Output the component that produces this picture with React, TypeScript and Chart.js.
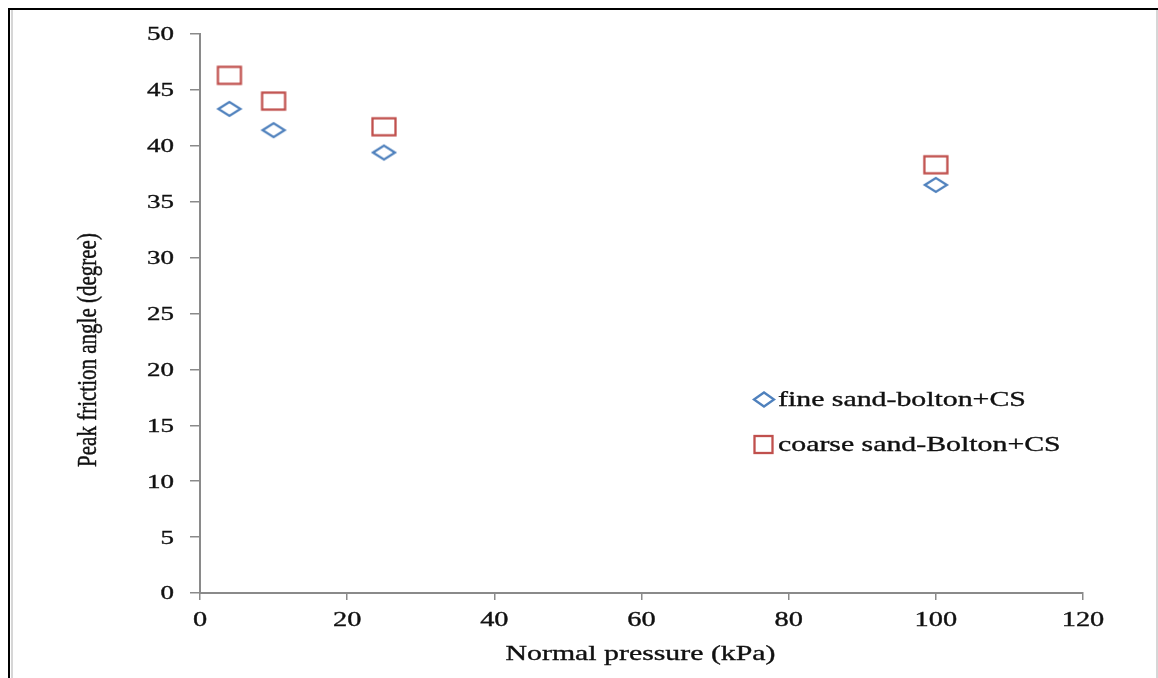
import { useEffect, useRef } from "react";
import { Chart, registerables } from "chart.js";

Chart.register(...registerables);

// Measured data: normal pressure (kPa) vs peak friction angle (degree)
const pressureKPa = [4, 10, 25, 100];
const fineSandAngle = [43.3, 41.4, 39.4, 36.5];
const coarseSandAngle = [46.3, 44.0, 41.7, 38.3];

const seriesNames = ["fine sand-bolton+CS", "coarse sand-Bolton+CS"];
const xTitle = "Normal pressure (kPa)";
const yTitle = "Peak friction angle (degree)";

const xRange = [0, 120];
const xStep = 20;
const yRange = [0, 50];
const yStep = 5;

const BLUE = "#4F81BD";
const RED = "#C0504D";
const AXIS = "#8a8a8a";
const INK = "#111111";
const SERIF = '"Liberation Serif", "Times New Roman", serif';
const STRETCH = 1.42;
const MARK_LINE = 2.3;

function makeSquare(w: number, h: number, color: string) {
  const c = document.createElement("canvas");
  c.width = w + 4;
  c.height = h + 4;
  const g = c.getContext("2d")!;
  g.strokeStyle = color;
  g.lineWidth = MARK_LINE;
  g.strokeRect(2.5, 2.5, w - 1, h - 1);
  return c;
}

function makeDiamond(w: number, h: number, color: string) {
  const c = document.createElement("canvas");
  c.width = w + 4;
  c.height = h + 4;
  const g = c.getContext("2d")!;
  const cx = c.width / 2;
  const cy = c.height / 2;
  g.strokeStyle = color;
  g.lineWidth = MARK_LINE;
  g.beginPath();
  g.moveTo(cx - w / 2 + 1, cy);
  g.lineTo(cx, cy - h / 2 + 1);
  g.lineTo(cx + w / 2 - 1, cy);
  g.lineTo(cx, cy + h / 2 - 1);
  g.closePath();
  g.stroke();
  return c;
}

function wideText(
  ctx: CanvasRenderingContext2D,
  text: string,
  x: number,
  y: number,
  size: number,
  align: CanvasTextAlign,
  sx = STRETCH,
  rotate = 0
) {
  ctx.save();
  ctx.translate(x, y);
  ctx.scale(sx, 1);
  if (rotate) ctx.rotate(rotate);
  ctx.font = `${size}px ${SERIF}`;
  ctx.textAlign = align;
  ctx.textBaseline = "middle";
  ctx.fillStyle = INK;
  ctx.strokeStyle = INK;
  ctx.lineWidth = 0.35;
  ctx.fillText(text, 0, 0);
  ctx.strokeText(text, 0, 0);
  ctx.restore();
}

// White page with the frame lines around the figure
const framePlugin = {
  id: "frame",
  beforeDraw(chart: Chart) {
    const ctx = chart.ctx;
    const W = chart.width;
    const H = chart.height;
    ctx.save();
    ctx.fillStyle = "#ffffff";
    ctx.fillRect(0, 0, W, H);
    ctx.fillStyle = "#000000";
    ctx.fillRect(8, 8, W - 8, 2);
    ctx.fillRect(8, 8, 2, H - 8);
    ctx.fillStyle = "#d6d6d6";
    ctx.fillRect(11, 10, 2, H - 10);
    ctx.fillRect(1156, 10, 2, H - 10);
    ctx.restore();
  },
};

// Tick labels, axis titles and legend drawn in the wide serif face
const labelPlugin = {
  id: "labels",
  afterDraw(chart: Chart) {
    const ctx = chart.ctx;
    const xs = chart.scales.x;
    const ys = chart.scales.y;
    const area = chart.chartArea;

    ys.ticks.forEach((t) => {
      const y = ys.getPixelForValue(t.value);
      wideText(ctx, String(t.value), 174, y + 1.5, 19, "right");
    });
    xs.ticks.forEach((t) => {
      const x = xs.getPixelForValue(t.value);
      wideText(ctx, String(t.value), x, 620.5, 20, "center");
    });

    wideText(ctx, xTitle, (area.left + area.right) / 2 - 1, 654, 21, "center");
    wideText(ctx, yTitle, 89, 350, 21, "center", 1.32, -Math.PI / 2);

    // legend
    const entries = [
      { name: seriesNames[0], color: BLUE, kind: "diamond", y: 399.5 },
      { name: seriesNames[1], color: RED, kind: "square", y: 444.5 },
    ];
    entries.forEach((e) => {
      ctx.save();
      ctx.strokeStyle = e.color;
      ctx.lineWidth = MARK_LINE;
      if (e.kind === "diamond") {
        ctx.beginPath();
        ctx.moveTo(754, e.y);
        ctx.lineTo(764, e.y - 7);
        ctx.lineTo(774, e.y);
        ctx.lineTo(764, e.y + 7);
        ctx.closePath();
        ctx.stroke();
      } else {
        ctx.strokeRect(754.5, e.y - 8.5, 18, 17);
      }
      ctx.restore();
      wideText(ctx, e.name, 778, e.y + 0.5, 21, "left");
    });
  },
};

export default function App() {
  const ref = useRef<HTMLCanvasElement | null>(null);

  useEffect(() => {
    const canvas = ref.current;
    if (!canvas) return;
    const diamond = makeDiamond(24, 16, BLUE);
    const square = makeSquare(24, 18, RED);

    const chart = new Chart(canvas, {
      type: "scatter",
      data: {
        datasets: [
          {
            label: seriesNames[0],
            data: pressureKPa.map((x, i) => ({ x, y: fineSandAngle[i] })),
            pointStyle: diamond,
            pointRadius: 10,
            borderColor: BLUE,
            backgroundColor: "transparent",
          },
          {
            label: seriesNames[1],
            data: pressureKPa.map((x, i) => ({ x, y: coarseSandAngle[i] })),
            pointStyle: square,
            pointRadius: 10,
            borderColor: RED,
            backgroundColor: "transparent",
          },
        ],
      },
      options: {
        responsive: false,
        animation: false,
        devicePixelRatio: 1,
        layout: { padding: { left: 80, right: 75, top: 34, bottom: 0 } },
        plugins: {
          legend: { display: false },
          tooltip: { enabled: false },
          title: { display: false },
        },
        scales: {
          x: {
            type: "linear",
            min: xRange[0],
            max: xRange[1],
            ticks: { stepSize: xStep, display: false },
            grid: {
              drawOnChartArea: false,
              drawTicks: true,
              tickLength: 7,
              color: AXIS,
              lineWidth: 1.5,
            },
            border: { display: true, color: AXIS, width: 2 },
            afterFit: (s: any) => {
              s.height = 85;
            },
          },
          y: {
            type: "linear",
            min: yRange[0],
            max: yRange[1],
            ticks: { stepSize: yStep, display: false },
            grid: {
              drawOnChartArea: false,
              drawTicks: true,
              tickLength: 10,
              color: AXIS,
              lineWidth: 1.5,
            },
            border: { display: true, color: AXIS, width: 2 },
            afterFit: (s: any) => {
              s.width = 120;
            },
          },
        },
      },
      plugins: [framePlugin, labelPlugin],
    });
    return () => chart.destroy();
  }, []);

  return (
    <canvas
      ref={ref}
      width={1158}
      height={678}
      style={{ position: "fixed", left: 0, top: 0, display: "block" }}
    />
  );
}
